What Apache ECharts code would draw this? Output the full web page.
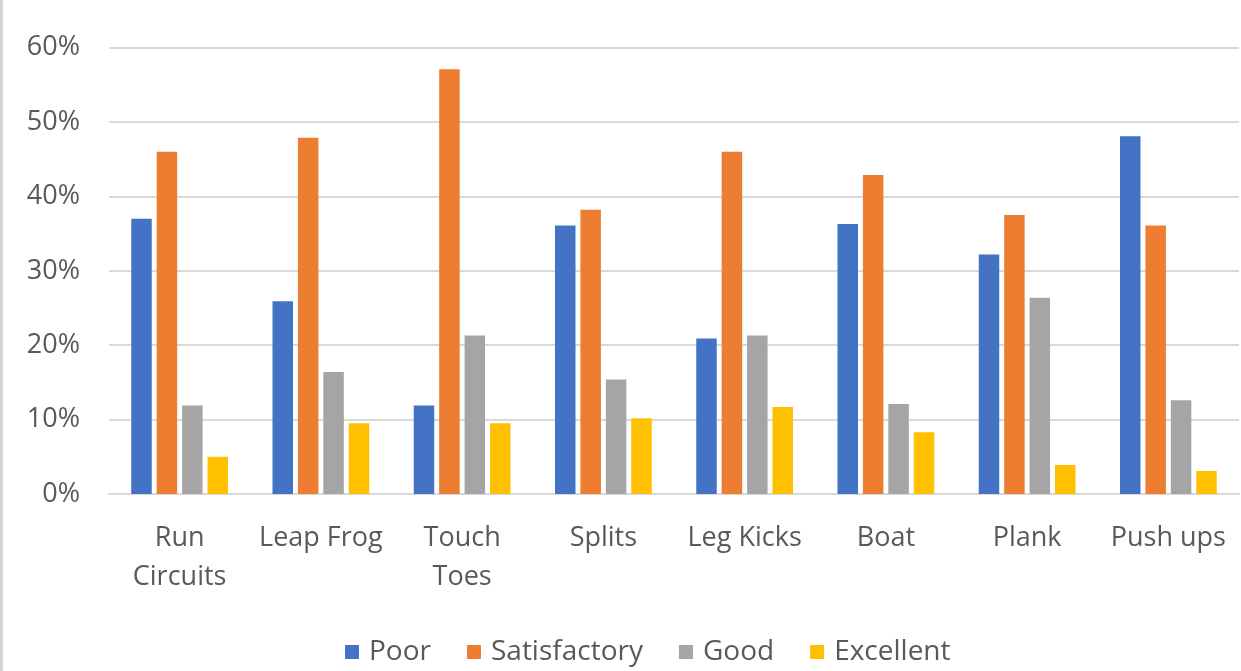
<!DOCTYPE html>
<html>
<head>
<meta charset="utf-8">
<script src="https://cdn.jsdelivr.net/npm/echarts@6/dist/echarts.min.js"></script>
<style>
html,body{margin:0;padding:0;background:#fff;}
#c{width:1241px;height:671px;}
</style>
</head>
<body>
<div id="c"></div>
<script>
const categories = ['Run Circuits','Leap Frog','Touch Toes','Splits','Leg Kicks','Boat','Plank','Push ups'];
const tickLabels = ['Run\nCircuits','Leap Frog','Touch\nToes','Splits','Leg Kicks','Boat','Plank','Push ups'];
const seriesNames = ['Poor','Satisfactory','Good','Excellent'];
const poor = [37.0, 25.9, 11.9, 36.1, 20.9, 36.3, 32.2, 48.1];
const satisfactory = [46.0, 47.9, 57.1, 38.2, 46.0, 42.9, 37.5, 36.1];
const good = [11.9, 16.4, 21.3, 15.4, 21.3, 12.1, 26.4, 12.6];
const excellent = [5.0, 9.5, 9.5, 10.2, 11.7, 8.3, 3.9, 3.1];
const colors = ['#4472C4','#ED7D31','#A5A5A5','#FFC000'];

const FONT = 'Open Sans';
const chart = echarts.init(document.getElementById('c'), null, {renderer:'canvas'});
const dataSets = [poor, satisfactory, good, excellent];
chart.setOption({
  animation: false,
  color: colors,
  textStyle: {fontFamily: FONT},
  graphic: [{type:'rect', left:0, top:0, shape:{width:3, height:671}, style:{fill:'#d4d4d4'}}],
  grid: {left:109, right:2, top:47.7, bottom:177, containLabel:false},
  legend: {
    bottom: 0, left: 340,
    itemWidth: 14, itemHeight: 14, itemGap: 36,
    icon: 'rect',
    textStyle: {fontFamily: FONT, fontSize: 28, color: '#595959', padding: [0,0,0,5]},
    data: seriesNames
  },
  xAxis: {
    type: 'category',
    data: categories,
    axisLine: {show:true, lineStyle:{color:'#d9d9d9', width:2}},
    axisTick: {show:false},
    axisLabel: {
      interval: 0, margin: 25, fontSize: 27, color: '#595959', fontFamily: FONT, lineHeight: 39,
      formatter: (v, i) => tickLabels[i]
    }
  },
  yAxis: {
    type: 'value', min: 0, max: 60, interval: 10,
    axisLine: {show:false}, axisTick: {show:false},
    splitLine: {lineStyle:{color:'#d9d9d9', width:2}},
    axisLabel: {margin: 29, fontSize: 27, color: '#595959', fontFamily: FONT, formatter: '{value}%'}
  },
  series: seriesNames.map((n, i) => ({
    name: n, type: 'bar', data: dataSets[i],
    barWidth: 20.5, barGap: '24%',
    itemStyle: {color: colors[i]}
  }))
});
</script>
</body>
</html>
